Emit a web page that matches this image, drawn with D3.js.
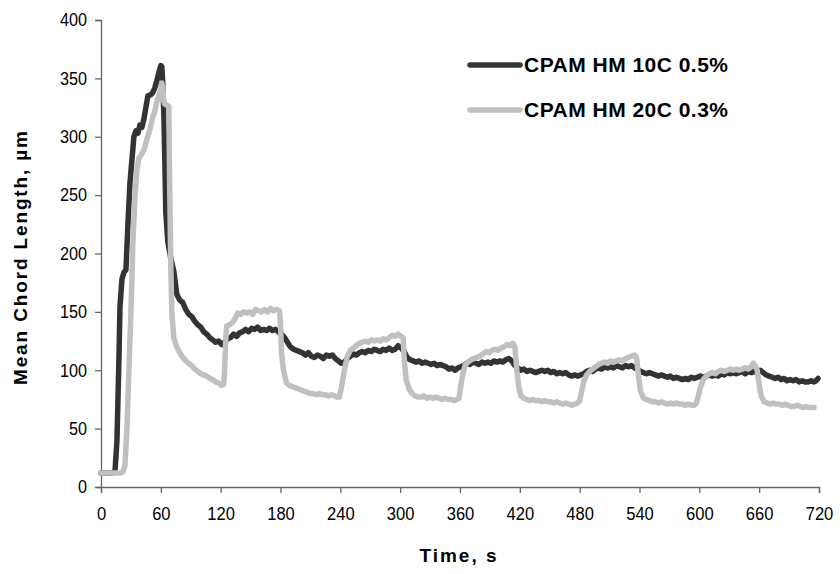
<!DOCTYPE html>
<html>
<head>
<meta charset="utf-8">
<script src="https://cdn.jsdelivr.net/npm/d3@7"></script>
<style>
  body { margin: 0; background: #fff; }
  svg { display: block; }
  text { font-family: Arial, "Liberation Sans", sans-serif; fill: #000; }
</style>
</head>
<body>
<svg id="chart" width="840" height="574"></svg>
<script>
// ---- data ----
const seriesNames = ["CPAM HM 10C 0.5%", "CPAM HM 20C 0.3%"];
const xTicks = [0, 60, 120, 180, 240, 300, 360, 420, 480, 540, 600, 660, 720];
const yTicks = [0, 50, 100, 150, 200, 250, 300, 350, 400];

const darkTime = [0,5,10,14,16,18,19,21,23,25,27,29,31,33,35,37,39,41,43,45,47,50,52,54,56,58,60,61,62,63,64,65,67,70,73,76,79,82,85,88,91,94,97,100,103,106,109,112,115,118,121,124,127,130,133,136,139,142,145,148,151,154,157,160,163,166,169,172,175,178,181,184,187,190,193,196,199,202,205,208,211,214,217,220,223,226,229,232,235,238,241,244,247,250,253,256,259,262,265,268,271,274,277,280,283,286,289,292,295,298,301,304,307,310,313,316,319,322,325,328,331,334,337,340,343,346,349,352,355,358,361,364,367,370,373,376,379,382,385,388,391,394,397,400,403,406,409,412,415,418,421,424,427,430,433,436,439,442,445,448,451,454,457,460,463,466,469,472,475,478,481,484,487,490,493,496,499,502,505,508,511,514,517,520,523,526,529,532,535,538,541,544,547,550,553,556,559,562,565,568,571,574,577,580,583,586,589,592,595,598,601,604,607,610,613,616,619,622,625,628,631,634,637,640,643,646,649,652,655,658,661,664,667,670,673,676,679,682,685,688,691,694,697,700,703,706,709,712,715,717,719];
const darkValue = [12,12,12,13,40,110,154,178,184,186,225,260,280,300,305,303,310,308,315,325,335,336,338,342,348,355,361,360,345,320,280,235,210,196,185,165,160,158,152,148,146,142,139,137,133,131,128,126,124,125,122,124,127,128,131,129,132,133,135,133,136,135,137,134,135,134,136,134,135,133,131,128,124,120,118,117,116,115,113,115,112,111,113,112,110,113,112,113,110,108,106,107,110,112,114,113,115,116,115,117,116,118,117,116,118,117,119,117,118,121,119,116,111,109,108,107,108,106,107,106,105,106,104,105,104,103,101,102,100,102,103,104,106,105,107,106,105,107,106,107,106,108,107,108,107,109,110,108,104,102,100,101,99,100,99,98,99,100,99,100,98,99,97,98,97,98,96,95,96,95,96,97,99,100,99,101,102,101,103,102,103,102,104,103,102,104,103,104,102,101,99,98,97,98,97,96,95,96,95,94,95,93,94,93,92,93,92,94,93,94,95,94,95,96,95,96,95,97,96,98,97,98,97,98,99,97,99,98,99,98,100,98,96,95,94,93,94,92,93,91,92,91,92,90,91,90,90,91,90,91,93];

const lightTime = [0,5,10,15,20,22,24,26,28,30,32,34,36,38,40,42,44,46,48,50,52,54,56,58,60,61,62,63,64,66,68,69,70,71,73,76,79,82,85,88,91,94,97,100,103,106,109,112,115,118,121,123,124,125,126,129,132,135,137,140,143,146,149,152,155,158,161,164,167,170,173,176,179,180,181,183,186,189,192,195,198,201,204,207,210,213,216,219,222,225,228,231,234,237,239,241,243,245,247,250,253,256,259,262,265,268,271,274,277,280,283,286,289,292,295,298,301,303,304,306,309,312,315,318,321,324,327,330,333,336,339,342,345,348,351,354,357,359,361,363,365,368,371,374,377,380,383,386,389,392,395,398,401,404,407,410,413,415,417,419,421,424,427,430,433,436,439,442,445,448,451,454,457,460,463,466,469,472,475,478,480,482,484,487,490,493,496,499,502,505,508,511,514,517,520,523,526,529,532,535,537,539,541,544,547,550,553,556,559,562,565,568,571,574,577,580,583,586,589,592,595,597,599,601,604,607,610,613,616,619,622,625,628,631,634,637,640,643,646,649,652,654,656,658,660,662,665,668,671,674,677,680,683,686,689,692,695,698,701,704,707,710,713,715];
const lightValue = [12,12,12,12,12,13,18,50,100,150,210,248,272,282,284,287,291,298,303,310,317,322,330,335,341,346,342,330,328,327,326,250,190,150,128,120,115,111,108,106,104,101,99,97,96,95,93,92,90,89,87,88,100,125,138,139,141,145,149,148,150,149,150,148,152,151,150,152,150,153,151,152,151,140,115,100,89,87,86,85,84,83,82,81,80,80,79,80,79,79,78,79,78,77,77,85,95,104,112,117,119,121,123,124,125,124,126,125,126,125,127,126,128,130,129,131,129,128,110,92,84,80,78,77,77,78,76,77,76,77,76,75,76,75,75,74,75,76,88,97,104,107,109,110,111,112,114,116,115,117,118,117,119,120,122,121,123,120,100,85,78,76,75,74,75,74,74,73,74,73,73,72,73,72,71,72,71,70,71,72,74,82,90,96,99,101,103,105,106,107,106,108,107,108,109,108,110,111,112,113,111,95,82,76,75,74,73,73,72,73,72,71,72,71,72,71,71,70,71,70,70,72,78,85,92,95,97,98,97,99,100,99,100,101,100,101,100,101,102,101,103,106,104,100,88,78,73,72,71,72,71,71,70,71,70,69,69,70,69,68,69,68,68,68];

const seriesColors = ["#333333", "#c0c0c0"];

// ---- layout ----
const svg = d3.select("#chart");
const margin = {left: 101, right: 21, top: 20, bottom: 87};
const W = 840, H = 574;
const x = d3.scaleLinear().domain([0, 720]).range([margin.left, W - margin.right]);
const y = d3.scaleLinear().domain([0, 400]).range([H - margin.bottom, margin.top]);

// axes
const gx = svg.append("g").attr("transform", `translate(0,${y(0)})`)
  .call(d3.axisBottom(x).tickValues(xTicks).tickSize(6).tickPadding(14).tickFormat(d3.format("d")));
const gy = svg.append("g").attr("transform", `translate(${x(0)},0)`)
  .call(d3.axisLeft(y).tickValues(yTicks).tickSize(6).tickPadding(8).tickFormat(d3.format("d")));
[gx, gy].forEach(g => {
  g.select(".domain").attr("stroke", "#666").attr("stroke-width", 1.3);
  g.selectAll(".tick line").attr("stroke", "#666").attr("stroke-width", 1.3);
  g.selectAll(".tick text").attr("font-size", 18).attr("font-family", "Arial, 'Liberation Sans', sans-serif").attr("fill", "#000");
});
gx.selectAll(".tick text").each(function() {
  const w = this.getComputedTextLength();
  d3.select(this).attr("textLength", w * 0.92).attr("lengthAdjust", "spacingAndGlyphs");
});
gy.selectAll(".tick text").each(function() {
  const w = this.getComputedTextLength();
  d3.select(this).attr("textLength", w * 0.9).attr("lengthAdjust", "spacingAndGlyphs");
});

// lines
const series = [
  {name: seriesNames[0], t: darkTime, v: darkValue, color: seriesColors[0]},
  {name: seriesNames[1], t: lightTime, v: lightValue, color: seriesColors[1]}
];
const line = d3.line().x(d => x(d[0])).y(d => y(d[1]));
series.forEach(s => {
  svg.append("path")
    .attr("d", line(s.t.map((t, i) => [t, s.v[i]])))
    .attr("fill", "none")
    .attr("stroke", s.color)
    .attr("stroke-width", 5.5)
    .attr("stroke-linejoin", "round")
    .attr("stroke-linecap", "round");
});

// axis titles
svg.append("text").attr("x", 458).attr("y", 562).attr("text-anchor", "middle")
  .attr("font-size", 19).attr("font-weight", "bold")
  .attr("textLength", 77).attr("lengthAdjust", "spacing").text("Time, s");
svg.append("text").attr("transform", "translate(27,258) rotate(-90)").attr("text-anchor", "middle")
  .attr("font-size", 19).attr("font-weight", "bold")
  .attr("textLength", 254).attr("lengthAdjust", "spacing").text("Mean Chord Length, µm");

// legend
const legY = [65, 110];
series.forEach((s, i) => {
  svg.append("line").attr("x1", x(0) + 369).attr("x2", x(0) + 419)
    .attr("y1", legY[i]).attr("y2", legY[i])
    .attr("stroke", s.color).attr("stroke-width", 5.5).attr("stroke-linecap", "round");
  svg.append("text").attr("x", 524).attr("y", legY[i] + 7)
    .attr("font-size", 21).attr("font-weight", "bold")
    .attr("textLength", 204).attr("lengthAdjust", "spacing").text(s.name);
});
</script>
</body>
</html>
